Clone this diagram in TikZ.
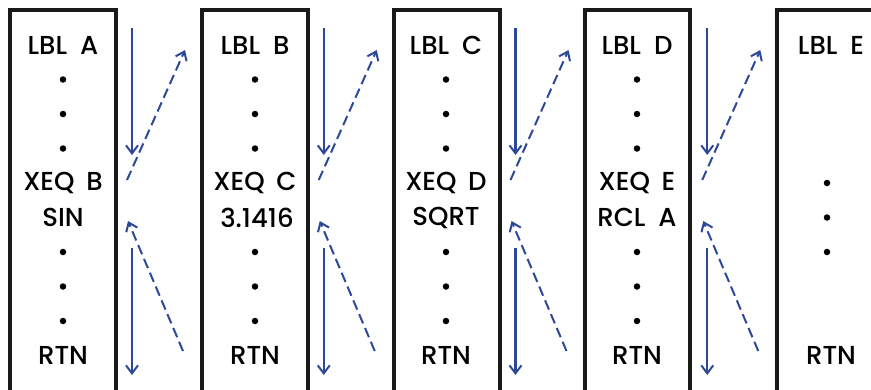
\documentclass[tikz,border=0pt]{standalone}
\usepackage{fontspec}
\setmainfont{Poppins}[UprightFont={* Medium}]
\usepackage{tikz}
\usetikzlibrary{arrows.meta}
\usepackage{xcolor}
\definecolor{callblue}{RGB}{46,72,152}

\tikzset{
  prog/.style={draw=black!90, line width=3.2pt},
  line/.style={font=\fontsize{26}{28}\selectfont, inner sep=0pt, anchor=center},
  dot/.style={fill=black, circle, inner sep=0pt, minimum size=6.5pt},
  call/.style={callblue, line width=2.4pt, -{Straight Barb[length=8pt,width=12pt,line width=2pt]}},
  back/.style={callblue, line width=2pt, dash pattern=on 10pt off 5pt, -{Straight Barb[length=8pt,width=12pt,line width=2pt]}}
}

\begin{document}
\begin{tikzpicture}[x=1pt, y=-1pt]
    \clip (0,0) rectangle (871,389);

    % Program A
    \draw[prog] (10,420) -- (10,10) -- (116,10) -- (116,420);
    \node[line] (la) at (63,45) {LBL\hspace{0.5em}A};
    \node[dot] (a1) at (63,79.5) {};
    \node[dot] (a2) at (63,114) {};
    \node[dot] (a3) at (63,148.5) {};
    \node[line] (xa) at (63,183) {XEQ\hspace{0.45em}B};
    \node[line] (sa) at (63,217.5) {SIN};
    \node[dot] (a4) at (63,252) {};
    \node[dot] (a5) at (63,286.5) {};
    \node[dot] (a6) at (63,321) {};
    \node[line] (ra) at (63,355.5) {RTN};

    % Program B
    \draw[prog] (202,420) -- (202,10) -- (308,10) -- (308,420);
    \node[line] (lb) at (255,45) {LBL\hspace{0.5em}B};
    \node[dot] (b1) at (255,79.5) {};
    \node[dot] (b2) at (255,114) {};
    \node[dot] (b3) at (255,148.5) {};
    \node[line] (xb) at (255,183) {XEQ\hspace{0.45em}C};
    \node[line] (sb) at (257,217.5) {3.1416};
    \node[dot] (b4) at (255,252) {};
    \node[dot] (b5) at (255,286.5) {};
    \node[dot] (b6) at (255,321) {};
    \node[line] (rb) at (255,355.5) {RTN};

    % Program C
    \draw[prog] (394,420) -- (394,10) -- (500,10) -- (500,420);
    \node[line] (lc) at (446,45) {LBL\hspace{0.5em}C};
    \node[dot] (c1) at (446,79.5) {};
    \node[dot] (c2) at (446,114) {};
    \node[dot] (c3) at (446,148.5) {};
    \node[line] (xc) at (446,183) {XEQ\hspace{0.45em}D};
    \node[line] (sc) at (446,217.5) {SQRT};
    \node[dot] (c4) at (446,252) {};
    \node[dot] (c5) at (446,286.5) {};
    \node[dot] (c6) at (446,321) {};
    \node[line] (rc) at (446,355.5) {RTN};

    % Program D
    \draw[prog] (585,420) -- (585,10) -- (690,10) -- (690,420);
    \node[line] (ld) at (637,45) {LBL\hspace{0.5em}D};
    \node[dot] (d1) at (637,79.5) {};
    \node[dot] (d2) at (637,114) {};
    \node[dot] (d3) at (637,148.5) {};
    \node[line] (xd) at (637,183) {XEQ\hspace{0.45em}E};
    \node[line] (sd) at (637,217.5) {RCL\hspace{0.5em}A};
    \node[dot] (d4) at (637,252) {};
    \node[dot] (d5) at (637,286.5) {};
    \node[dot] (d6) at (637,321) {};
    \node[line] (rd) at (637,355.5) {RTN};

    % Program E
    \draw[prog] (777,420) -- (777,10) -- (883,10) -- (883,420);
    \node[line] (le) at (831,45) {LBL\hspace{0.5em}E};
    \node[dot] (e1) at (827,183) {};
    \node[dot] (e2) at (827,217.5) {};
    \node[dot] (e3) at (827,252) {};
    \node[line] (re) at (831,355.5) {RTN};

    % Calls and returns
    \foreach \g/\n in {0/ab, 1/bc, 2/cd, 3/de} {
        \coordinate (go\n) at (132+191.75*\g,28);
        \coordinate (goend\n) at (132+191.75*\g,155);
        \coordinate (on\n) at (132+191.75*\g,248);
        \coordinate (onend\n) at (132+191.75*\g,375);
        \coordinate (jump\n) at (127+191.75*\g,180);
        \coordinate (land\n) at (185+191.75*\g,50);
        \coordinate (ret\n) at (183+191.75*\g,351);
        \coordinate (retend\n) at (128+191.75*\g,221);
        \draw[call] (go\n) -- (goend\n);
        \draw[call] (on\n) -- (onend\n);
        \draw[back] (jump\n) -- (land\n);
        \draw[back] (ret\n) -- (retend\n);
    }
\end{tikzpicture}
\end{document}
